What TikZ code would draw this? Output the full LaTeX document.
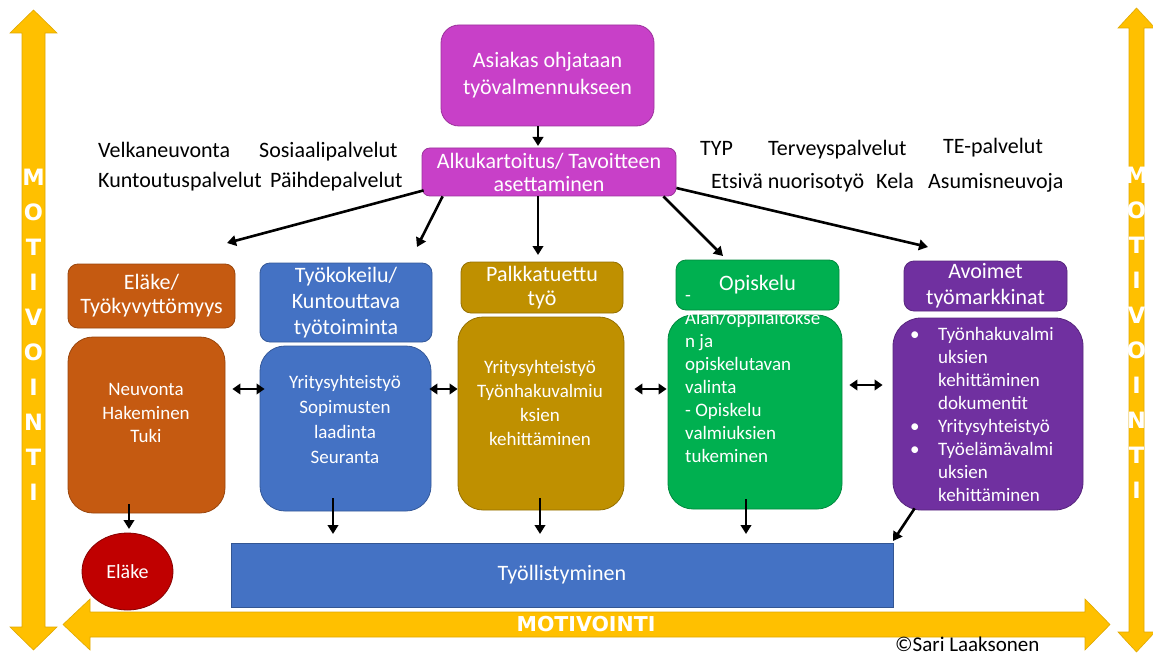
\documentclass[tikz,border=0pt]{standalone}
\usepackage{fontspec}
\setmainfont{Carlito}
\newfontfamily\motfont{DejaVu Sans}
\usetikzlibrary{arrows.meta,shapes.geometric,calc}
\definecolor{mag}{RGB}{200,64,200}
\definecolor{ora}{RGB}{197,90,17}
\definecolor{blu}{RGB}{68,114,196}
\definecolor{gld}{RGB}{191,144,0}
\definecolor{grn}{RGB}{0,176,80}
\definecolor{pur}{RGB}{112,48,160}
\definecolor{elred}{RGB}{192,0,0}
\definecolor{yel}{RGB}{255,192,0}
\tikzset{
  box/.style={draw=#1!78!black, line width=0.8pt, fill=#1, text=white, align=center, inner sep=0pt},
  txtc/.style={text=white, align=center, inner sep=0pt},
  txtl/.style={text=white, anchor=north west, inner sep=0pt, font=\fontsize{19}{23}\selectfont},
  lab/.style={anchor=base west, inner sep=0pt, font=\fontsize{22}{24}\selectfont},
  mot/.style={text=white, inner sep=0pt, font={\fontsize{20.5}{22}\motfont\bfseries}},
  motv/.style={mot, font={\fontsize{22.5}{24}\motfont\bfseries}},
  arr/.style={line width=2.6pt, -{Triangle[length=9pt,width=10.5pt]}},
  darr/.style={line width=2.6pt, {Triangle[length=8pt,width=10.5pt]}-{Triangle[length=8pt,width=10.5pt]}},
  yarrow/.style={fill=yel, draw=yel!88!black, line width=0.6pt}
}
\begin{document}
\begin{tikzpicture}[x=1pt,y=-1pt]
\useasboundingbox (0,0) rectangle (1153,655);
\fill[white] (0,0) rectangle (1153,655);

% yellow MOTIVOINTI arrows
\path[yarrow] (33.5,10) -- (57,33) -- (45,33) -- (45,627) -- (57,627) -- (33.5,650) -- (10,627) -- (22,627) -- (22,33) -- (10,33) -- cycle;
\path[yarrow] (1136.5,8) -- (1155,28) -- (1144,28) -- (1144,632) -- (1155,632) -- (1136.5,652) -- (1118,632) -- (1129,632) -- (1129,28) -- (1118,28) -- cycle;
\path[yarrow] (63,624.5) -- (90,599) -- (90,612) -- (1085,612) -- (1085,599) -- (1110,624.5) -- (1085,650) -- (1085,637) -- (90,637) -- (90,650) -- cycle;
\foreach \c [count=\i] in {M,O,T,I,V,O,I,N,T,I}{
  \node[motv] (ml\i) at (33.5,{177+35*(\i-1)}) {\c};
  \node[motv] (mr\i) at (1136.5,{175+35*(\i-1)}) {\c};
}
\node[mot] (mb) at (586,624.5) {MOTIVOINTI};

% top boxes
\node[box=mag, rounded corners=18pt, minimum width=213pt, minimum height=101pt, font=\fontsize{22}{27}\selectfont] (top) at (547.5,75.5) {Asiakas ohjataan\\työvalmennukseen};
\node[box=mag, rounded corners=8pt, minimum width=254pt, minimum height=48pt, font=\fontsize{22}{23}\selectfont] (alku) at (549,172) {Alkukartoitus/ Tavoitteen\\asettaminen};

% side labels
\node[lab] (l1) at (98,158) {Velkaneuvonta};
\node[lab] (l2) at (259,158) {Sosiaalipalvelut};
\node[lab] (l3) at (98,188) {Kuntoutuspalvelut};
\node[lab] (l4) at (270,188) {Päihdepalvelut};
\node[lab] (l5) at (700,156) {TYP};
\node[lab] (l6) at (768,156) {Terveyspalvelut};
\node[lab] (l7) at (943,154) {TE-palvelut};
\node[lab] (l8) at (711,189) {Etsivä nuorisotyö};
\node[lab] (l9) at (876,189) {Kela};
\node[lab] (l10) at (928,189) {Asumisneuvoja};

% column headers
\node[box=ora, rounded corners=10pt, minimum width=167pt, minimum height=64pt, font=\fontsize{22}{24}\selectfont] (h1) at (151.5,296) {Eläke/\\Työkyvyttömyys};
\node[box=blu, rounded corners=10pt, minimum width=172pt, minimum height=79pt, font=\fontsize{22}{26}\selectfont] (h2) at (346,302.5) {Työkokeilu/\\Kuntouttava\\työtoiminta};
\node[box=gld, rounded corners=10pt, minimum width=162pt, minimum height=51pt, font=\fontsize{22}{24}\selectfont] (h3) at (542,287.5) {Palkkatuettu\\työ};
\node[box=grn, rounded corners=10pt, minimum width=163pt, minimum height=50pt, font=\fontsize{22}{24}\selectfont] (h4) at (757.5,285) {Opiskelu};
\node[box=pur, rounded corners=10pt, minimum width=163pt, minimum height=50pt, font=\fontsize{22}{26}\selectfont] (h5) at (985.5,286) {Avoimet\\työmarkkinat};

% column bodies
\node[box=ora, rounded corners=25pt, minimum width=157pt, minimum height=176pt] (b1) at (146.5,425) {};
\node[box=blu, rounded corners=25pt, minimum width=171pt, minimum height=165pt] (b2) at (345.5,428.5) {};
\node[box=gld, rounded corners=25pt, minimum width=166pt, minimum height=193pt] (b3) at (541,413.5) {};
\node[box=grn, rounded corners=25pt, minimum width=174pt, minimum height=194pt] (b4) at (755,412) {};
\node[box=pur, rounded corners=28pt, minimum width=190pt, minimum height=192pt] (b5) at (988,414) {};

\node[txtc, font=\fontsize{19}{23.5}\selectfont] (t1) at (146,413) {Neuvonta\\Hakeminen\\Tuki};
\node[txtc, font=\fontsize{19}{25}\selectfont] (t2) at (345,419.5) {Yritysyhteistyö\\Sopimusten\\laadinta\\Seuranta};
\node[txtc, font=\fontsize{19}{24}\selectfont] (t3) at (540,402.5) {Yritysyhteistyö\\Työnhakuvalmiu\\ksien\\kehittäminen};
\node[txtl] (t4) at (685,285) {\begin{tabular}{@{}l@{}}-\\Alan/oppilaitokse\\n ja\\opiskelutavan\\valinta\\- Opiskelu\\valmiuksien\\tukeminen\end{tabular}};
\node[txtl] (t5) at (910,324) {\begin{tabular}{@{}p{28pt}@{}l@{}}\textbullet & Työnhakuvalmi\\ & uksien\\ & kehittäminen\\ & dokumentit\\ \textbullet & Yritysyhteistyö\\ \textbullet & Työelämävalmi\\ & uksien\\ & kehittäminen\end{tabular}};

% bottom results
\node[ellipse, draw=elred!70!black, line width=0.8pt, fill=elred, text=white, minimum width=91pt, minimum height=77pt, inner sep=0pt, font=\fontsize{20}{22}\selectfont] (el) at (127.5,571.5) {Eläke};
\node[draw=blu!75!black, line width=0.8pt, fill=blu, text=white, minimum width=662pt, minimum height=64pt, inner sep=0pt, font=\fontsize{22}{24}\selectfont] (ty) at (562,575) {Työllistyminen};

\node[lab, font=\fontsize{21}{22}\selectfont] (cp) at (895,651) {©Sari Laaksonen};

% connector end points
\coordinate (e0) at (538,146);
\coordinate (e1) at (227,243);
\coordinate (e2) at (417,247);
\coordinate (e3) at (538,255);
\coordinate (e4) at (723,256);
\coordinate (e5) at (928,247);
\coordinate (f1) at (129,529);
\coordinate (f2) at (333,534);
\coordinate (f3) at (540,534);
\coordinate (f4) at (746,534);
\coordinate (f5) at (893,541);
\coordinate (dy1) at (0,389);
\coordinate (dy2) at (0,385);

% connectors
\draw[arr] (top.south -| e0) -- (e0);
\draw[arr] ($(alku.south west)+(2,-6)$) -- (e1);
\draw[arr] ($(alku.south west)+(21,0)$) -- (e2);
\draw[arr] (alku.south -| e3) -- (e3);
\draw[arr] ($(alku.south east)+(-13,0)$) -- (e4);
\draw[arr] ($(alku.east)+(0,16)$) -- (e5);

\draw[darr, shorten <=7pt, shorten >=-5pt] (b1.east |- dy1) -- (b2.west |- dy1);
\draw[darr, shorten <=-2pt] (b2.east |- dy1) -- (b3.west |- dy1);
\draw[darr, shorten <=10pt, shorten >=1pt] (b3.east |- dy1) -- (b4.west |- dy1);
\draw[darr, shorten <=7pt, shorten >=10pt] (b4.east |- dy2) -- (b5.west |- dy2);

\draw[arr, shorten <=-9pt] (b1.south -| f1) -- (f1);
\draw[arr, shorten <=-13pt] (b2.south -| f2) -- (f2);
\draw[arr, shorten <=-12pt] (b3.south -| f3) -- (f3);
\draw[arr, shorten <=-10pt] (b4.south -| f4) -- (f4);
\draw[arr] ($(b5.south west)+(22,-2)$) -- (f5);
\end{tikzpicture}
\end{document}
